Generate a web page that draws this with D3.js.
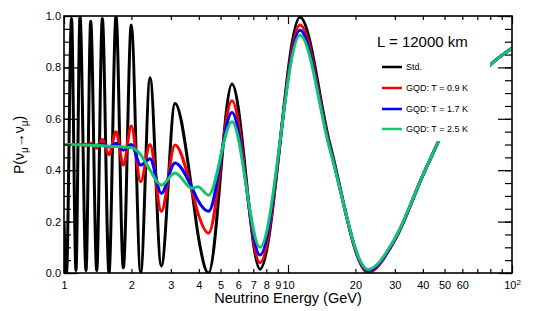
<!DOCTYPE html>
<html>
<head>
<meta charset="utf-8">
<script src="https://cdn.jsdelivr.net/npm/d3@7"></script>
<style>
  body { margin: 0; background: #fff; }
  text { font-family: "Liberation Sans", Arial, Helvetica, sans-serif; }
</style>
</head>
<body>
<svg id="chart" width="540" height="311"></svg>
<script>
// Neutrino energy grid (GeV)
var energy = [1.00, 1.026, 1.080, 1.131, 1.179, 1.254, 1.316, 1.400, 1.483, 1.588,
  1.707, 1.840, 1.997, 2.199, 2.421, 2.719, 3.130, 3.727, 3.965, 4.417,
  5.623, 7.499, 11.31, 15.4, 22.76, 30, 40, 50, 60, 80, 100];

// Survival probabilities P(numu -> numu) for each curve
var pStd = [0.20, 0.00, 0.99, 0.01, 1.00, 0.01, 0.98, 0.01, 0.99, 0.00,
  1.00, 0.02, 0.965, 0.00, 0.76, 0.027, 0.66, 0.32, 0.15, 0.00,
  0.735, 0.015, 0.995, 0.50, 0.003, 0.13, 0.38, 0.56, 0.68, 0.81, 0.875];
var pT09 = [0.50, 0.50, 0.50, 0.50, 0.50, 0.495, 0.505, 0.485, 0.52, 0.46,
  0.55, 0.42, 0.572, 0.355, 0.50, 0.239, 0.498, 0.32, 0.232, 0.155,
  0.67, 0.04, 0.965, 0.49, 0.005, 0.13, 0.38, 0.56, 0.68, 0.81, 0.875];
var pT17 = [0.50, 0.50, 0.50, 0.50, 0.50, 0.50, 0.50, 0.497, 0.503, 0.49,
  0.505, 0.478, 0.50, 0.42, 0.445, 0.31, 0.428, 0.332, 0.282, 0.24,
  0.625, 0.07, 0.945, 0.485, 0.01, 0.13, 0.38, 0.56, 0.68, 0.81, 0.875];
var pT25 = [0.50, 0.50, 0.50, 0.499, 0.499, 0.498, 0.497, 0.496, 0.495, 0.493,
  0.492, 0.49, 0.488, 0.46, 0.40, 0.342, 0.389, 0.33, 0.336, 0.303,
  0.589, 0.10, 0.925, 0.48, 0.014, 0.135, 0.38, 0.56, 0.68, 0.81, 0.875];

var seriesNames = ["Std.", "GQD: T = 0.9 K", "GQD: T = 1.7 K", "GQD: T = 2.5 K"];
var seriesColors = ["#000000", "#ff0000", "#0000ff", "#14c46c"];
var seriesValues = [pStd, pT09, pT17, pT25];

// Tick values
var xMajor = [1, 10, 100];
var xMinor = [2, 3, 4, 5, 6, 7, 8, 9, 20, 30, 40, 50, 60, 70, 80, 90];
var xLabels = [1, 2, 3, 4, 5, 6, 7, 8, 9, 10, 20, 30, 40, 50, 60, 100];
var yMajor = [0, 0.2, 0.4, 0.6, 0.8, 1.0];
var yMinor = d3.range(0, 1.0001, 0.05);

(function drawChart() {
  var svg = d3.select("#chart"),
      left = 64, right = 512, plotTop = 16, bottom = 273;

  var x = d3.scaleLog().domain([1, 100]).range([left, right]);
  var y = d3.scaleLinear().domain([0, 1]).range([bottom, plotTop]);

  svg.append("defs").append("clipPath")
      .attr("id", "plot-clip")
    .append("rect")
      .attr("x", left).attr("y", plotTop)
      .attr("width", right - left).attr("height", bottom - plotTop);

  // curves
  var line = d3.line()
      .x(function(d) { return x(d.e); })
      .y(function(d) { return y(d.p); })
      .curve(d3.curveMonotoneX);

  var curveGroup = svg.append("g").attr("clip-path", "url(#plot-clip)");
  seriesValues.forEach(function(vals, i) {
    var pts = energy.map(function(e, j) { return { e: e, p: vals[j] }; });
    curveGroup.append("path")
        .datum(pts)
        .attr("fill", "none")
        .attr("stroke", seriesColors[i])
        .attr("stroke-width", 3)
        .attr("stroke-linejoin", "round")
        .attr("d", line);
  });

  // white legend box hides the curves behind it
  svg.append("rect")
      .attr("x", 355).attr("y", plotTop + 1)
      .attr("width", 135).attr("height", 124)
      .attr("fill", "#fff");

  // axes, all ticks point inward
  function drawAxis(axis, transform) {
    var g = svg.append("g").attr("transform", transform).call(axis);
    g.select(".domain").remove();
    g.selectAll("line").attr("stroke", "#000").attr("stroke-width", 1.2);
    return g;
  }

  var atBottom = "translate(0," + bottom + ")",
      atTop = "translate(0," + plotTop + ")",
      atLeft = "translate(" + left + ",0)",
      atRight = "translate(" + right + ",0)";

  drawAxis(d3.axisBottom(x).tickValues(xMajor).tickSize(-8).tickFormat(""), atBottom);
  drawAxis(d3.axisBottom(x).tickValues(xMinor).tickSize(-4).tickFormat(""), atBottom);
  drawAxis(d3.axisTop(x).tickValues(xMajor).tickSize(-8).tickFormat(""), atTop);
  drawAxis(d3.axisTop(x).tickValues(xMinor).tickSize(-4).tickFormat(""), atTop);
  drawAxis(d3.axisLeft(y).tickValues(yMinor).tickSize(-7).tickFormat(""), atLeft);
  drawAxis(d3.axisRight(y).tickValues(yMinor).tickSize(-7).tickFormat(""), atRight);
  drawAxis(d3.axisRight(y).tickValues(yMajor).tickSize(-14).tickFormat(""), atRight);

  var yAxis = drawAxis(d3.axisLeft(y).tickValues(yMajor).tickSize(-14).tickPadding(3)
      .tickFormat(d3.format(".1f")), atLeft);
  yAxis.selectAll("text").attr("font-size", 11).attr("fill", "#000")
      .style("font-family", "'Liberation Sans', Arial, sans-serif");

  var xAxis = drawAxis(d3.axisBottom(x).tickValues(xLabels).tickSize(0).tickPadding(8)
      .tickFormat(function(d) { return d === 100 ? "" : d; }), atBottom);
  xAxis.selectAll("text").attr("font-size", 11).attr("fill", "#000")
      .style("font-family", "'Liberation Sans', Arial, sans-serif");
  // 10^2 label
  xAxis.selectAll("text").filter(function(d) { return d === 100; })
      .call(function(t) {
        t.append("tspan").text("10");
        t.append("tspan").attr("dy", "-0.45em").attr("font-size", 8).text("2");
      });

  // frame
  svg.append("rect")
      .attr("x", left).attr("y", plotTop)
      .attr("width", right - left).attr("height", bottom - plotTop)
      .attr("fill", "none")
      .attr("stroke", "#000")
      .attr("stroke-width", 1.6);

  // axis titles
  svg.append("text")
      .attr("x", (left + right) / 2)
      .attr("y", 303)
      .attr("text-anchor", "middle")
      .attr("font-size", 14.5)
      .text("Neutrino Energy (GeV)");

  var yTitle = svg.append("text")
      .attr("transform", "translate(24,145) rotate(-90)")
      .attr("text-anchor", "middle")
      .attr("font-size", 14);
  yTitle.append("tspan").text("P(\u03bd");
  yTitle.append("tspan").attr("dy", 4).attr("font-size", 10).text("\u03bc");
  yTitle.append("tspan").attr("dy", -4).text("\u2192\u03bd");
  yTitle.append("tspan").attr("dy", 4).attr("font-size", 10).text("\u03bc");
  yTitle.append("tspan").attr("dy", -4).text(")");

  // legend
  svg.append("text")
      .attr("x", 377).attr("y", 47)
      .attr("font-size", 15)
      .text("L = 12000 km");

  var legendY = [67, 88, 109, 129];
  var legend = svg.selectAll(".legend-item")
      .data(seriesNames)
    .enter().append("g")
      .attr("class", "legend-item")
      .attr("transform", function(d, i) { return "translate(0," + legendY[i] + ")"; });
  legend.append("line")
      .attr("x1", 382).attr("x2", 402)
      .attr("stroke", function(d, i) { return seriesColors[i]; })
      .attr("stroke-width", 2.5);
  legend.append("text")
      .attr("x", 406)
      .attr("dy", "0.35em")
      .attr("font-size", 9)
      .text(function(d) { return d; });
})();
</script>
</body>
</html>
